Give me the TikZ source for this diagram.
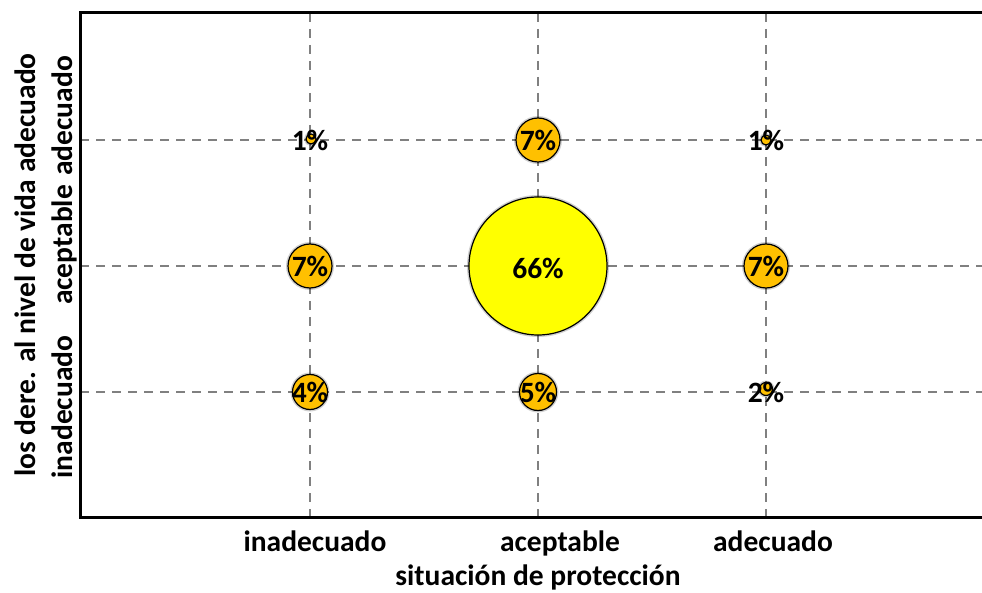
\documentclass[tikz,border=0pt]{standalone}
\usepackage{fontspec}
\setmainfont{Carlito}
\definecolor{bubor}{HTML}{FFC000}
\definecolor{bubye}{HTML}{FFFF00}
\definecolor{gridgray}{HTML}{808080}
\begin{document}
\begin{tikzpicture}[x=1pt,y=-1pt,
  gridline/.style={draw=gridgray, line width=2.2pt, dash pattern=on 9pt off 7pt},
  frameline/.style={draw=black, line width=3pt},
  lab/.style={font=\fontsize{29.5}{34}\selectfont\bfseries, inner sep=0pt, text=black},
  ylab/.style={lab, rotate=90, anchor=base},
  bub/.style={circle, draw=black, line width=1.2pt, fill=bubor, inner sep=0pt,
    preaction={draw=black, draw opacity=0.18, line width=4pt}},
]
\useasboundingbox (0,0) rectangle (982,593);
% frame anchors
\coordinate (tl) at (80,13);
\coordinate (tr) at (982,13);
\coordinate (bl) at (80,517);
\coordinate (br) at (982,517);
% grid anchors
\foreach \y/\n in {140/1,266/2,392/3}{
  \coordinate (hl\n) at (80,\y);
  \coordinate (hr\n) at (982,\y);
  \draw[gridline] (hl\n) -- (hr\n);
}
\foreach \x/\n in {310/1,538/2,766/3}{
  \coordinate (vt\n) at (\x,13);
  \coordinate (vb\n) at (\x,517);
  \draw[gridline] (vt\n) -- (vb\n);
}
% frame
\draw[frameline] (tr) -- (tl) -- (bl) -- (br);
% bubbles
\node[bub, minimum size=10pt] (b11) at (311,139) {};
\node[bub, minimum size=44pt] (b21) at (538,140) {};
\node[bub, minimum size=10pt] (b31) at (766,140) {};
\node[bub, minimum size=44pt] (b12) at (310,266) {};
\node[bub, fill=bubye, minimum size=138pt] (b22) at (538,266) {};
\node[bub, minimum size=44pt] (b32) at (766,266) {};
\node[bub, minimum size=35pt] (b13) at (310,392) {};
\node[bub, minimum size=37pt] (b23) at (538,392) {};
\node[bub, minimum size=13pt] (b33) at (766,389) {};
% bubble labels
\node[lab] (l11) at (310,140) {1\%};
\node[lab] (l21) at (538,140) {7\%};
\node[lab] (l31) at (766,140) {1\%};
\node[lab] (l12) at (310,266) {7\%};
\node[lab] (l22) at (538,268) {66\%};
\node[lab] (l32) at (766,266) {7\%};
\node[lab] (l13) at (310,392) {4\%};
\node[lab] (l23) at (538,392) {5\%};
\node[lab] (l33) at (766,392) {2\%};
% x axis labels
\node[lab, anchor=base] (x1) at (315,551) {inadecuado};
\node[lab, anchor=base] (x2) at (560,551) {aceptable};
\node[lab, anchor=base] (x3) at (773,551) {adecuado};
\node[lab, anchor=base] (xt) at (538,585) {situación de protección};
% y axis labels
\node[ylab] (y1) at (72,407) {inadecuado};
\node[ylab] (y2) at (72,245) {aceptable};
\node[ylab] (y3) at (72,116) {adecuado};
\node[ylab] (yt) at (35,265) {los dere. al nivel de vida adecuado};
\end{tikzpicture}
\end{document}
